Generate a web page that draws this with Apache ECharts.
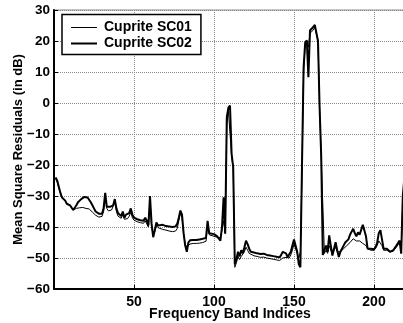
<!DOCTYPE html>
<html><head><meta charset="utf-8">
<script src="https://cdn.jsdelivr.net/npm/echarts@6/dist/echarts.min.js"></script>
<style>html,body{margin:0;padding:0;background:#fff}#c{width:403px;height:323px}</style>
</head><body><div id="c"></div>
<script>
const seriesNames = ['Cuprite SC01', 'Cuprite SC02'];
const bands = [1,2,3,4,5,6,7,8,9,10,11,12,13,14,15,16,17,18,19,20,21,22,23,24,25,26,27,28,29,30,
31,32,33,34,35,36,37,38,39,40,41,42,43,44,45,46,47,48,49,50,51,52,53,54,55,56,57,58,59,60,
61,62,63,64,65,66,68,70,72,74,76,77,78,79,80,81,82,83,84,85,87,89,91,93,95,96,97,98,100,101,
102,103,104,105,106,107,108,109,110,111,112,113,114,115,116,117,118,119,120,121,122,123,125,127,129,131,133,135,137,139,
141,142,143,144,145,146,147,148,149,150,151,152,153,154,155,156,157,158,159,160,161,162,163,164,165,166,167,168,169,170,
171,172,173,174,175,176,177,178,179,180,181,182,183,184,185,186,187,188,189,190,191,192,193,194,195,196,197,198,199,200,
201,202,203,204,205,206,207,208,209,210,211,212,213,214,215,216,217,218,219,220];
const sc02 = [-24,-25,-27,-29,-30.5,-30,-31.5,-32.5,-32,-33,-33.5,-34.5,-34,-33,-32,-31.5,-31,-30.5,-30.3,-30.3,
-30.5,-31,-32,-33,-34,-35,-35.5,-35.7,-35.8,-35.7,
-34,-29,-33.5,-34,-33.5,-33.7,-33,-31,-34,-35.5,-35,-36.5,-35,-37,-36,-36.5,-35.5,-34,-36,-37,
-37.5,-37.5,-38,-37.8,-38.3,-38,-37,-38,-39.5,-30,
-39,-43.3,-41,-38.5,-39.5,-39,-39.3,-39.7,-39.8,-40,-39.8,-39,-37,-34.7,-36,-42,-46,-48,-45,-44.3,
-44.2,-44.2,-44,-43.8,-43.5,-38,-42,-41.8,-42.3,-42,
-43,-42.5,-44.4,-40,-30.4,-42.2,-4.6,-1.5,-0.8,-16.4,-20.7,-52,-50.5,-48,-49.5,-47.5,-48.5,-46.5,-44.4,-45.5,
-47,-48,-48.2,-48.5,-48.7,-48.6,-49,-49.2,-49.4,-49.6,
-49.8,-49,-48,-47.6,-48.5,-49.7,-49.5,-48,-46,-44,-44.5,-48,-52,-53,-20,11.5,19.5,20.2,8.3,23.4,
24,24.5,25.2,25.7,20,-1.4,-17,-49,-48.5,-46,
-48,-42.7,-46,-49.2,-47,-44.9,-47.5,-49.7,-48,-47,-46,-45,-45.4,-44,-42.5,-41.5,-40.6,-42,-43,-41.7,
-42.5,-42,-39.3,-39.5,-43,-47,-46.5,-47,-47.6,-47.2,
-46.5,-45,-42,-41,-44,-47,-46.5,-47,-46.8,-48,-48.6,-47.5,-48,-46,-45.5,-44.4,-48.6,-30,-24,-21];
const sc01 = [-24.5,-25.5,-27.5,-29,-30.5,-30.5,-31.5,-32.5,-32.5,-33,-33.5,-34.5,-34.5,-34,-34,-33.8,-33.7,-33.7,-33.8,-34,
-34,-34.2,-34.7,-35.2,-35.7,-36.2,-36.6,-36.8,-36.8,-36.6,
-35,-30,-34,-34.8,-34.5,-34.5,-34,-32,-35,-36.5,-36,-37.2,-36,-37.5,-37,-37.3,-36.5,-35.3,-37,-37.8,
-38.2,-38.3,-38.6,-38.6,-38.8,-38.8,-38,-39,-40,-31,
-40,-42.5,-41.5,-39.5,-40.2,-40.5,-40.8,-41,-41.3,-41.5,-41.3,-40.5,-38,-35.5,-37,-42,-45.5,-46.5,-46,-45.5,
-45.3,-45.3,-45.2,-45,-44.6,-39,-42.5,-42.5,-43,-42.5,
-43.3,-42.8,-43.5,-41,-38,-42,-7,-2.5,-1.9,-17,-21,-53,-51.5,-49.5,-50.5,-49.5,-50,-48,-46.5,-47.5,
-48.5,-49,-49.3,-49.5,-49.8,-49.7,-50,-50.2,-50.4,-50.6,
-50.8,-50.5,-50,-49.5,-49.8,-50.3,-50,-49,-47.5,-45.5,-46,-48.5,-50,-48,-22,10,19,20,18,22.5,
23,23.5,24.5,25,20,-2,-17,-17.5,-48.5,-47.5,
-48.5,-46,-47.5,-48.5,-47.5,-46.5,-48,-48.5,-48,-47.5,-47,-46.5,-46,-45.5,-45,-44.5,-43.8,-44,-44.5,-44.2,
-44.5,-45,-45.3,-45,-46,-47,-47,-47.5,-47.7,-47.5,
-47,-46,-44.5,-44,-46,-47.5,-47,-47.5,-47.2,-48,-48.2,-47.8,-48,-46.5,-46,-45,-47.5,-31,-26,-23];
const xTicks = [50, 100, 150, 200];
const yTicks = [-60, -50, -40, -30, -20, -10, 0, 10, 20, 30];

const font = '"Liberation Sans", Arial, Helvetica, sans-serif';
const chart = echarts.init(document.getElementById('c'), null, {renderer: 'canvas'});
const split = {show: true, lineStyle: {color: '#8a8a8a', type: 'dotted', width: 1}};
chart.setOption({
  animation: false,
  backgroundColor: '#fff',
  grid: {left: 54, top: 10, width: 352, height: 279, containLabel: false, outerBoundsMode: 'none',
    show: true, borderColor: '#888', borderWidth: 1, backgroundColor: 'transparent'},
  legend: {
    orient: 'vertical', left: 62, top: 14.5,
    data: [
      {name: seriesNames[0], icon: 'path://M0,0H26V1H0Z'},
      {name: seriesNames[1], icon: 'path://M0,0H26V2H0Z'}
    ],
    itemWidth: 26, itemHeight: 14, itemGap: 2, symbolKeepAspect: true,
    padding: [6, 9, 4, 9],
    borderColor: '#000', borderWidth: 1.5, backgroundColor: '#fff',
    textStyle: {fontFamily: font, fontWeight: 'bold', fontSize: 14, color: '#000', padding: [0, 0, 0, 2]}
  },
  xAxis: {
    type: 'value', min: 0, max: 220, interval: 50,
    axisLine: {show: true, onZero: false, lineStyle: {color: '#000', width: 2}},
    axisTick: {show: true, inside: true, length: 4, lineStyle: {color: '#000'}},
    axisLabel: {fontFamily: font, fontWeight: 'bold', fontSize: 14, color: '#000', margin: 6,
      formatter: v => xTicks.includes(v) ? String(v) : ''},
    splitLine: split,
    name: 'Frequency Band Indices', nameLocation: 'middle', nameGap: 18, nameMoveOverlap: false,
    nameTextStyle: {fontFamily: font, fontWeight: 'bold', fontSize: 14, color: '#000'}
  },
  yAxis: {
    type: 'value', min: -60, max: 30, interval: 10,
    axisLine: {show: true, onZero: false, lineStyle: {color: '#000', width: 2}},
    axisTick: {show: true, inside: true, length: 4, lineStyle: {color: '#000'}},
    axisLabel: {fontFamily: font, fontWeight: 'bold', fontSize: 13.5, color: '#000', margin: 4,
      formatter: v => yTicks.includes(v) ? String(v).replace('-', '\u2212') : ''},
    splitLine: split,
    name: 'Mean Square Residuals (in dB)', nameLocation: 'middle', nameGap: 29, nameMoveOverlap: false,
    nameTextStyle: {fontFamily: font, fontWeight: 'bold', fontSize: 13, color: '#000'}
  },
  series: [
    {name: seriesNames[0], type: 'line', symbol: 'none', color: '#000',
      lineStyle: {color: '#000', width: 1}, data: bands.map((b, i) => [b, sc01[i]]), z: 3},
    {name: seriesNames[1], type: 'line', symbol: 'none', color: '#000',
      lineStyle: {color: '#000', width: 2}, data: bands.map((b, i) => [b, sc02[i]]), z: 4}
  ]
});
</script></body></html>
